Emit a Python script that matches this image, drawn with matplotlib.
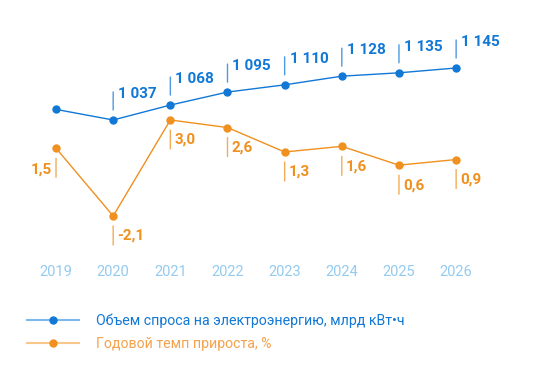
import matplotlib.pyplot as plt
from matplotlib.lines import Line2D

years = [2019, 2020, 2021, 2022, 2023, 2024, 2025, 2026]
demand = [1059, 1037, 1068, 1095, 1110, 1128, 1135, 1145]
demand_labels = [None, "1 037", "1 068", "1 095", "1 110", "1 128", "1 135", "1 145"]
growth = [1.5, -2.1, 3.0, 2.6, 1.3, 1.6, 0.6, 0.9]
growth_labels = ["1,5", "-2,1", "3,0", "2,6", "1,3", "1,6", "0,6", "0,9"]

BLUE = "#1178d6"
ORANGE = "#f0901f"
BLUE_LIGHT = "#7cb9ee"
ORANGE_LIGHT = "#f8c78c"
YEAR_COLOR = "#93cbf0"

plt.rcParams["font.family"] = ["Roboto", "DejaVu Sans"]

fig = plt.figure(figsize=(5.35, 3.76), dpi=100)
ax = fig.add_axes([0, 1 - 258 / 376, 1, 258 / 376])
ax2 = ax.twinx()

ax.set_xlim(2018.02, 2027.38)
ax.set_ylim(750.4, 1286.2)
ax2.set_ylim(-4.332, 9.375)

for a in (ax, ax2):
    for s in a.spines.values():
        s.set_visible(False)
ax2.set_yticks([])
ax.set_yticks([])
ax.set_xticks(years)
ax.set_xticklabels([str(y) for y in years])
ax.tick_params(axis="x", length=0, pad=5, labelsize=10.5, labelcolor=YEAR_COLOR)

ax.plot(years, demand, color=BLUE, lw=1.0, marker="o", ms=5, zorder=3)
ax2.plot(years, growth, color=ORANGE, lw=1.0, marker="o", ms=5, zorder=3)

px = 0.72  # points per pixel


def bar(a, x, y, y0, y1, color):
    a.annotate("", xy=(x, y), xytext=(0, y1 * px), textcoords="offset points",
               arrowprops=dict(arrowstyle="-", color=color, lw=1.0, alpha=0.75,
                               shrinkA=0, shrinkB=abs(y0) * px))


for x, v, lab in zip(years, demand, demand_labels):
    if lab is None:
        continue
    bar(ax, x, v, 10, 28, BLUE)
    ax.annotate(lab, (x, v), xytext=(5 * px, 26 * px), textcoords="offset points",
                ha="left", va="center", color=BLUE, fontsize=11, fontweight="bold")

for i, (x, v, lab) in enumerate(zip(years, growth, growth_labels)):
    bar(ax2, x, v, -10, -29, ORANGE)
    if i == 0:
        ax2.annotate(lab, (x, v), xytext=(-4 * px, -21 * px), textcoords="offset points",
                     ha="right", va="center", color=ORANGE, fontsize=11, fontweight="bold")
    else:
        ax2.annotate(lab, (x, v), xytext=(4 * px, -20 * px), textcoords="offset points",
                     ha="left", va="center", color=ORANGE, fontsize=11, fontweight="bold")

handles = [
    Line2D([], [], color=BLUE_LIGHT, lw=1.5, marker="o", ms=5,
           markerfacecolor=BLUE, markeredgecolor=BLUE),
    Line2D([], [], color=ORANGE_LIGHT, lw=1.5, marker="o", ms=5,
           markerfacecolor=ORANGE, markeredgecolor=ORANGE),
]
leg = fig.legend(handles, ["Объем спроса на электроэнергию, млрд кВт•ч",
                           "Годовой темп прироста, %"],
                 loc="upper left", bbox_to_anchor=(27 / 535, 1 - 313 / 376),
                 frameon=False, fontsize=10.2, handlelength=3.7,
                 handletextpad=1.2, labelspacing=0.65, borderaxespad=0,
                 borderpad=0)
leg.get_texts()[0].set_color(BLUE)
leg.get_texts()[1].set_color("#f5a24c")

fig.savefig("out.png", dpi=100)
